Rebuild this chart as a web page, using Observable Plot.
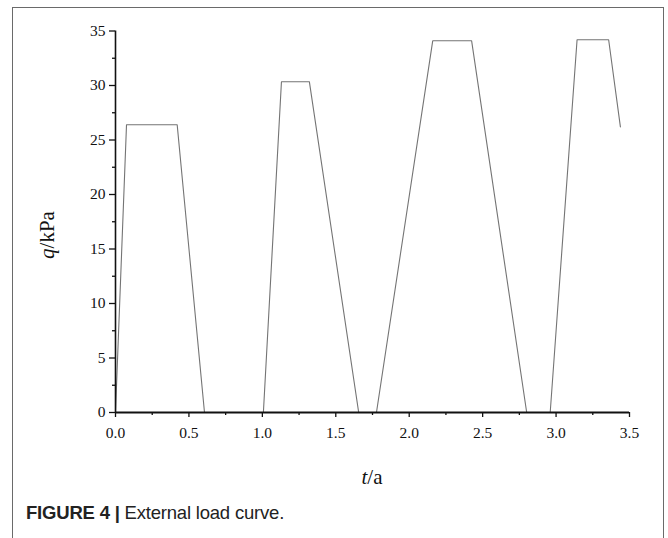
<!DOCTYPE html>
<html>
<head>
<meta charset="utf-8">
<script src="https://cdn.jsdelivr.net/npm/d3@7"></script>
<script src="https://cdn.jsdelivr.net/npm/@observablehq/plot@0.6"></script>
<style>
  html, body { margin: 0; padding: 0; background: #fff; }
  #page { position: relative; width: 668px; height: 538px; overflow: hidden; }
  #frame { position: absolute; left: 12px; top: 7px; width: 652px; height: 560px;
           border: 1.5px solid #6a6a6a; box-sizing: border-box; }
  #chart { position: absolute; left: 0; top: 0; }
  #chart svg text { font-family: "Liberation Serif", serif !important; font-size: 15.5px !important; fill: #111; }
  .axlab { position: absolute; font-family: "Liberation Serif", serif; font-size: 21px; color: #111; white-space: nowrap; }
  #ylab { left: 47px; top: 235px; transform: translate(-50%, -50%) rotate(-90deg); }
  #xlab { left: 372px; top: 477px; transform: translate(-50%, -50%); }
  #caption { position: absolute; left: 26px; top: 502px; font-family: "Liberation Sans", Arial, sans-serif;
             font-size: 18.5px; color: #222; white-space: nowrap; letter-spacing: -0.2px; }
  #caption b { font-weight: bold; }
</style>
</head>
<body>
<div id="page">
  <div id="frame"></div>
  <div id="chart"></div>
  <div class="axlab" id="ylab"><i>q</i>/kPa</div>
  <div class="axlab" id="xlab"><i>t</i>/a</div>
  <div id="caption"><b>FIGURE 4 |</b> External load curve.</div>
</div>
<script>
// Time (years) and load (kPa)
const tYears = [0, 0.075, 0.42, 0.606, 1.007, 1.13, 1.32, 1.656, 1.777, 2.16, 2.425, 2.80, 2.96, 3.143, 3.358, 3.438];
const qKPa   = [0, 26.4, 26.4, 0, 0, 30.35, 30.35, 0, 0, 34.1, 34.1, 0, 0, 34.2, 34.2, 26.2];

const xMajorTicks = [0, 0.5, 1.0, 1.5, 2.0, 2.5, 3.0, 3.5];
const xMinorTicks = [0.25, 0.75, 1.25, 1.75, 2.25, 2.75, 3.25];
const yMajorTicks = [0, 5, 10, 15, 20, 25, 30, 35];
const yMinorTicks = [2.5, 7.5, 12.5, 17.5, 22.5, 27.5, 32.5];

const data = tYears.map((t, i) => ({t, q: qKPa[i]}));

const chart = Plot.plot({
  width: 668,
  height: 500,
  marginLeft: 115,
  marginRight: 39,
  marginTop: 30.5,
  marginBottom: 88,
  style: {fontFamily: "Liberation Serif, serif", fontSize: "15px", color: "#111", background: "transparent", overflow: "visible"},
  x: {domain: [0, 3.5]},
  y: {domain: [0, 35]},
  marks: [
    Plot.line(data, {x: "t", y: "q", stroke: "#747474", strokeWidth: 1.1}),
    Plot.axisX(xMinorTicks, {tickSize: 3, text: null, stroke: "#111", strokeWidth: 1.3, label: null}),
    Plot.axisX(xMajorTicks, {tickSize: 5, tickPadding: 9, tickFormat: d => d.toFixed(1), stroke: "#111", strokeWidth: 1.3, label: null, fill: "#111"}),
    Plot.axisY(yMinorTicks, {tickSize: 3, text: null, stroke: "#111", strokeWidth: 1.3, label: null}),
    Plot.axisY(yMajorTicks, {tickSize: 6, tickPadding: 4, stroke: "#111", strokeWidth: 1.3, label: null, fill: "#111"}),
    Plot.ruleY([0], {stroke: "#111", strokeWidth: 1.8}),
    Plot.ruleX([0], {stroke: "#111", strokeWidth: 1.6})
  ]
});
document.getElementById("chart").appendChild(chart);
</script>
</body>
</html>
